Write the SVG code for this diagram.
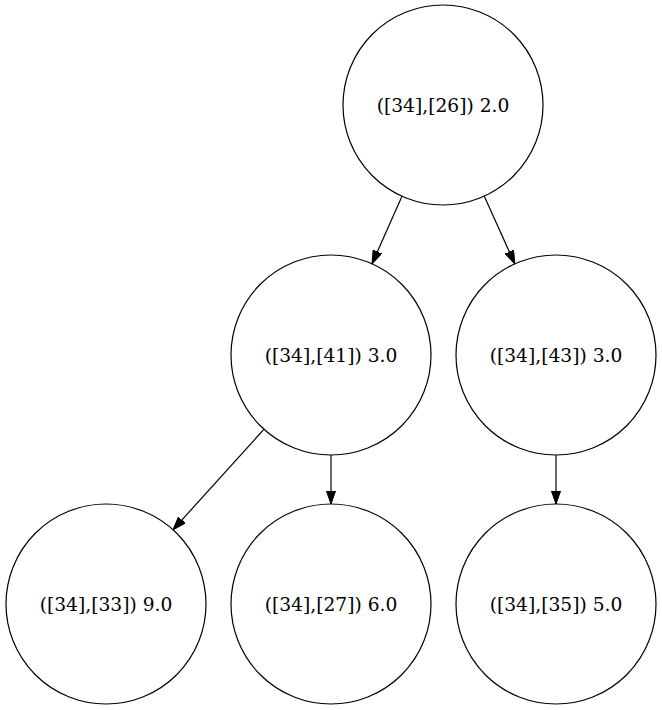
<svg xmlns="http://www.w3.org/2000/svg" width="662" height="710" viewBox="0 0 662 710">
<defs>
<style>
.node circle{fill:none;stroke:#000;stroke-width:1.2}
.node text{font-family:"DejaVu Serif",serif;font-size:18.67px;text-anchor:middle;fill:#000}
.edges line{stroke:#000;stroke-width:1.2;marker-end:url(#arr)}
</style>
<marker id="arr" markerUnits="userSpaceOnUse" markerWidth="14" markerHeight="10" refX="13.3" refY="4.67" orient="auto">
<path d="M0,0 L13.3,4.67 L0,9.33 z" fill="#000" stroke="#000" stroke-width="1"/>
</marker>
</defs>
<rect width="662" height="710" fill="#fff"/>
<g class="edges">
<line x1="402" y1="196.2" x2="372" y2="263.8"/>
<line x1="484.2" y1="196.1" x2="514.8" y2="263.9"/>
<line x1="264" y1="429.2" x2="173" y2="529.8"/>
<line x1="331" y1="455" x2="331" y2="504"/>
<line x1="556" y1="455" x2="556" y2="504"/>
</g>
<g class="node" id="n26"><circle cx="443" cy="105" r="100"/><text x="443" y="111.5">([34],[26]) 2.0</text></g>
<g class="node" id="n41"><circle cx="331" cy="355" r="100"/><text x="331" y="361.5">([34],[41]) 3.0</text></g>
<g class="node" id="n43"><circle cx="556" cy="355" r="100"/><text x="556" y="361.5">([34],[43]) 3.0</text></g>
<g class="node" id="n33"><circle cx="106" cy="604" r="100"/><text x="106" y="610.5">([34],[33]) 9.0</text></g>
<g class="node" id="n27"><circle cx="331" cy="604" r="100"/><text x="331" y="610.5">([34],[27]) 6.0</text></g>
<g class="node" id="n35"><circle cx="556" cy="604" r="100"/><text x="556" y="610.5">([34],[35]) 5.0</text></g>
</svg>
